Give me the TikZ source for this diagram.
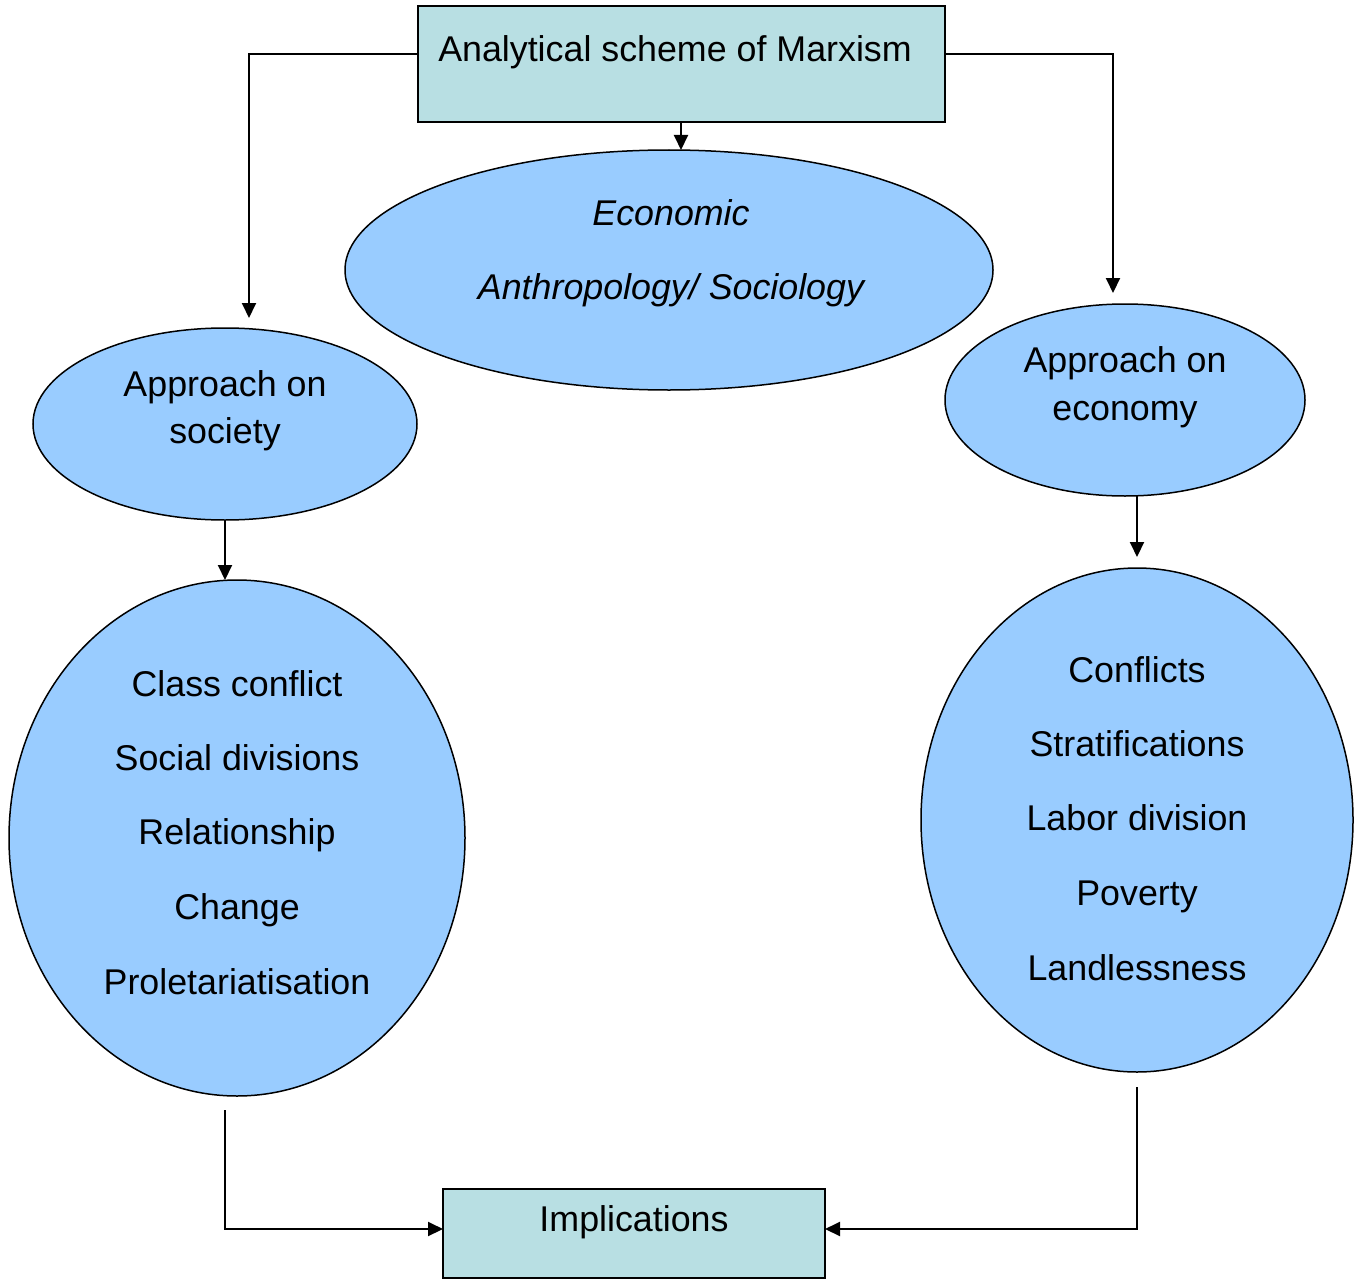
\documentclass[tikz,border=0pt]{standalone}
\usepackage{fontspec}
\setmainfont{Liberation Sans}
\usetikzlibrary{arrows.meta,shapes.geometric}
\definecolor{boxfill}{HTML}{B8DFE3}
\definecolor{ellfill}{HTML}{99CCFF}
\begin{document}
\begin{tikzpicture}[x=1pt,y=-1pt,
  every node/.style={font=\fontsize{35.8}{42}\selectfont},
  boxnode/.style={draw=black,line width=1.5pt,fill=boxfill,inner sep=0pt},
  ellnode/.style={draw=black,line width=1.5pt,fill=ellfill,ellipse,inner sep=0pt},
  conn/.style={draw=black,line width=2pt},
  arr/.style={conn,-{Triangle[length=15pt,width=14pt]}},
  lbl/.style={inner sep=0pt,anchor=base},
  ilbl/.style={lbl,font=\fontsize{35.8}{42}\selectfont\itshape}]
\useasboundingbox (0,0) rectangle (1365,1279);
% shapes
\node[boxnode,minimum width=527pt,minimum height=116pt] (top) at (681.5,64) {};
\node[lbl] (toptxt) at (675,62) {Analytical scheme of Marxism};
\node[ellnode,minimum width=648pt,minimum height=240pt] (econ) at (669,270) {};
\node[ilbl] (econ1) at (671,225) {Economic};
\node[ilbl] (econ2) at (671,299) {Anthropology/ Sociology};
\node[ellnode,minimum width=384pt,minimum height=192pt] (soc) at (225,424) {};
\node[lbl] (soc1) at (225,396) {Approach on};
\node[lbl] (soc2) at (225,443) {society};
\node[ellnode,minimum width=360pt,minimum height=192pt] (eco) at (1125,400) {};
\node[lbl] (eco1) at (1125,372) {Approach on};
\node[lbl] (eco2) at (1125,420) {economy};
\node[ellnode,minimum width=456pt,minimum height=516pt] (socbig) at (237,838) {};
\node[lbl] (s1) at (237,696) {Class conflict};
\node[lbl] (s2) at (237,770) {Social divisions};
\node[lbl] (s3) at (237,844) {Relationship};
\node[lbl] (s4) at (237,919) {Change};
\node[lbl] (s5) at (237,994) {Proletariatisation};
\node[ellnode,minimum width=432pt,minimum height=504pt] (ecobig) at (1137,820) {};
\node[lbl] (e1) at (1137,682) {Conflicts};
\node[lbl] (e2) at (1137,756) {Stratifications};
\node[lbl] (e3) at (1137,830) {Labor division};
\node[lbl] (e4) at (1137,905) {Poverty};
\node[lbl] (e5) at (1137,980) {Landlessness};
\node[boxnode,minimum width=382pt,minimum height=89pt] (impl) at (634,1233.5) {};
\node[lbl] (impltxt) at (634,1231) {Implications};
% coordinates
\coordinate (tl) at (418,54);
\coordinate (tlc) at (249,54);
\coordinate (tle) at (249,318);
\coordinate (tr) at (945,54);
\coordinate (trc) at (1113,54);
\coordinate (tre) at (1113,293);
\coordinate (tb) at (681,122);
\coordinate (te) at (681,150);
\coordinate (sb) at (225,520);
\coordinate (sbe) at (225,580);
\coordinate (eb) at (1137,496);
\coordinate (ebe) at (1137,557);
\coordinate (ls) at (225,1110);
\coordinate (lc) at (225,1229);
\coordinate (le) at (443,1229);
\coordinate (rs) at (1137,1087);
\coordinate (rc) at (1137,1229);
\coordinate (re) at (825,1229);
% connectors
\draw[arr] (tb) -- (te);
\draw[arr] (tl) -- (tlc) -- (tle);
\draw[arr] (tr) -- (trc) -- (tre);
\draw[arr] (sb) -- (sbe);
\draw[arr] (eb) -- (ebe);
\draw[arr] (ls) -- (lc) -- (le);
\draw[arr] (rs) -- (rc) -- (re);
\end{tikzpicture}
\end{document}
